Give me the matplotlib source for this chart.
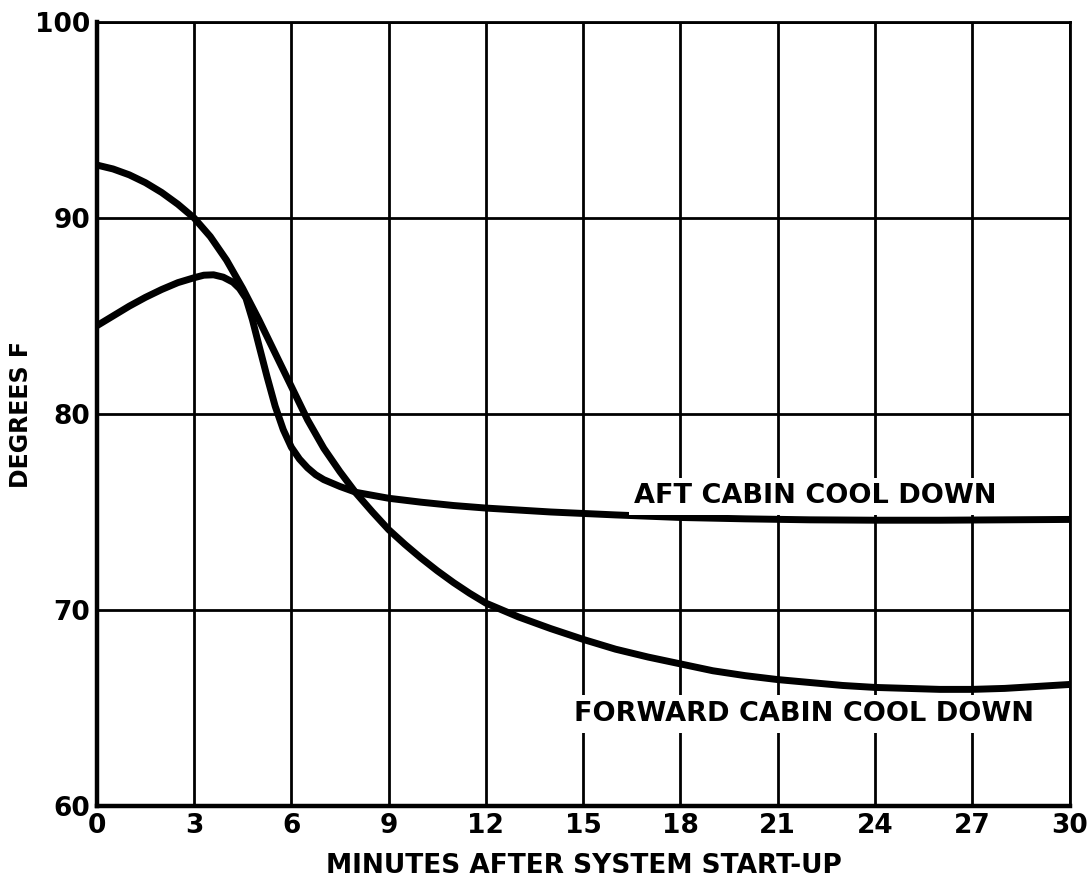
import matplotlib
import matplotlib.pyplot as plt
matplotlib.use('Agg')

# cabin temperature after start-up, degrees F
aft_min = [0, 0.5, 1, 1.5, 2, 2.5, 3, 3.3, 3.6, 3.9, 4.2, 4.4, 4.6, 4.8,
           5.0, 5.25, 5.5, 5.75, 6.0, 6.25, 6.5, 6.75, 7.0, 7.5, 8, 8.5,
           9, 10, 11, 12, 14, 16, 18, 20, 22, 24, 26, 28, 30]
aft_temp = [84.5, 85.0, 85.5, 85.95, 86.35, 86.7, 86.95, 87.08, 87.1,
            86.98, 86.72, 86.4, 85.9, 84.8, 83.5, 81.9, 80.4, 79.2, 78.3,
            77.7, 77.25, 76.9, 76.65, 76.3, 76.0, 75.85, 75.7, 75.5,
            75.33, 75.2, 75.0, 74.85, 74.72, 74.65, 74.6, 74.58, 74.58,
            74.6, 74.62]

fwd_min = [0, 0.5, 1, 1.5, 2, 2.5, 3, 3.5, 4, 4.5, 5, 5.5, 6, 6.5, 7, 7.5,
           8, 8.5, 9, 9.5, 10, 10.5, 11, 11.5, 12, 13, 14, 15, 16, 17, 18,
           19, 20, 21, 22, 23, 24, 25, 26, 27, 28, 29, 30]
fwd_temp = [92.7, 92.5, 92.2, 91.8, 91.3, 90.7, 90.0, 89.05, 87.85, 86.4,
            84.8, 83.1, 81.4, 79.7, 78.25, 77.05, 75.95, 75.0, 74.1, 73.35,
            72.65, 72.0, 71.4, 70.85, 70.35, 69.65, 69.05, 68.5, 68.0,
            67.6, 67.25, 66.9, 66.65, 66.45, 66.3, 66.15, 66.05, 66.0,
            65.95, 65.95, 66.0, 66.1, 66.2]

x_ticks = [0, 3, 6, 9, 12, 15, 18, 21, 24, 27, 30]
y_ticks = [60, 70, 80, 90, 100]

plt.rcParams['font.family'] = ['DejaVu Sans']
plt.rcParams['font.weight'] = 'bold'

fig = plt.figure(figsize=(10.88, 8.92), dpi=100)
ax = fig.add_axes([0.089, 0.0964, 0.894, 0.879])

ax.plot(aft_min, aft_temp, color='black', lw=5, solid_capstyle='butt',
        solid_joinstyle='round', zorder=3)
ax.plot(fwd_min, fwd_temp, color='black', lw=5, solid_capstyle='butt',
        solid_joinstyle='round', zorder=3)

ax.set_xlim(0, 30)
ax.set_ylim(60, 100)
ax.set_xticks(x_ticks)
ax.set_yticks(y_ticks)
ax.tick_params(length=0, labelsize=19, pad=5)
for lab in ax.get_xticklabels() + ax.get_yticklabels():
    lab.set_fontweight('bold')
ax.grid(True, color='black', lw=2)
ax.set_axisbelow(True)

for side in ['left', 'bottom']:
    ax.spines[side].set_linewidth(3.2)
for side in ['top', 'right']:
    ax.spines[side].set_linewidth(2)

fig.text(0.5363, 0.029, 'MINUTES AFTER SYSTEM START-UP', fontsize=19,
         fontweight='bold', ha='center', va='center')
fig.text(0.0193, 0.535, 'DEGREES F', fontsize=17, fontweight='bold',
         rotation=90, ha='center', va='center')

box = dict(facecolor='white', edgecolor='none', pad=4)
ax.text(22.17, 75.8, 'AFT CABIN COOL DOWN', fontsize=19.5,
        fontweight='bold', ha='center', va='center', bbox=box, zorder=4)
ax.text(21.8, 64.7, 'FORWARD CABIN COOL DOWN', fontsize=19.5,
        fontweight='bold', ha='center', va='center', bbox=box, zorder=4)

plt.savefig('out.png', dpi=100)
